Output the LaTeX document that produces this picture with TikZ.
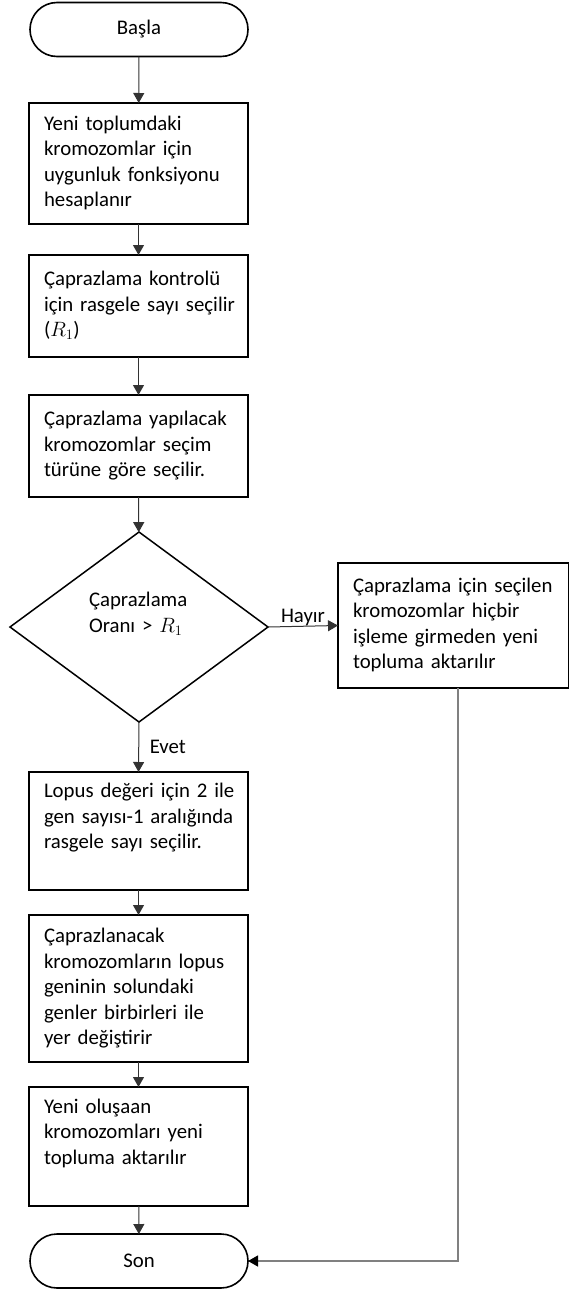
\documentclass[tikz,border=0pt]{standalone}
\usepackage{fontspec}
\setmainfont{Carlito}
\usetikzlibrary{shapes.geometric,shapes.misc,arrows.meta}
% one line of box text, kept unbroken and strutted
\newcommand\rowtxt[1]{\mbox{\strut#1}}

\begin{document}
\begin{tikzpicture}[x=1pt,y=-1pt,
  font=\fontsize{20.8}{25.5}\selectfont,
  every node/.style={inner sep=0pt, outer sep=0pt},
  term/.style={draw, line width=1.6pt, rounded rectangle,
    minimum width=218pt, minimum height=54pt},
  proc/.style={draw, line width=2pt, rectangle, minimum width=219pt,
    text width=189pt, inner xsep=15pt, align=left},
  decision/.style={draw, line width=1.5pt, diamond, aspect=1.36,
    minimum width=258pt, minimum height=190pt, text width=100pt, align=left},
  flow/.style={draw=black!80, line width=1pt,
    -{Triangle[length=10pt,width=11pt]}},
  back/.style={draw=black!50, line width=1.3pt,
    -{Triangle[length=10pt,width=11pt,color=black]}},
  lbl/.style={font=\fontsize{20.8}{24}\selectfont},
]
\fill[white] (0,0) rectangle (568,1293);
\useasboundingbox (0,0) rectangle (568,1293);

% terminals
\node[term] (start) at (139,29.5) {\raisebox{-2pt}{Başla}};
\node[term] (stop)  at (139,1261) {Son};

% process boxes
\node[proc, minimum height=121pt] (b1) at (138.5,163.5)
  {\rowtxt{Yeni toplumdaki}\\\rowtxt{kromozomlar için}\\
   \rowtxt{uygunluk fonksiyonu}\\\rowtxt{hesaplanır}};
\node[proc, minimum height=102pt] (b2) at (138.5,306)
  {\rowtxt{Çaprazlama kontrolü}\\\rowtxt{için rasgele sayı seçilir}\\
   \rowtxt{($R_1$)}};
\node[proc, minimum height=102pt] (b3) at (138.5,446)
  {\rowtxt{Çaprazlama yapılacak}\\\rowtxt{kromozomlar seçim}\\
   \rowtxt{türüne göre seçilir.}};

% decision
\node[decision] (dec) at (139,627)
  {\rowtxt{Çaprazlama}\\\rowtxt{Oranı > $R_1$}\\\rowtxt{}};

% "no" branch box (runs off the right edge)
\node[proc, minimum width=231pt, text width=201pt, minimum height=125pt]
  (nobox) at (453.5,625.5)
  {\rowtxt{Çaprazlama için seçilen}\\\rowtxt{kromozomlar hiçbir}\\
   \rowtxt{işleme girmeden yeni}\\\rowtxt{topluma aktarılır}};

% "yes" branch boxes
\node[proc, minimum height=118pt] (b4) at (138.5,831)
  {\rowtxt{Lopus değeri için 2 ile}\\\rowtxt{gen sayısı-1 aralığında}\\
   \rowtxt{rasgele sayı seçilir.}\\\rowtxt{}};
\node[proc, minimum height=147pt] (b5) at (138.5,988.5)
  {\rowtxt{Çaprazlanacak}\\\rowtxt{kromozomların lopus}\\
   \rowtxt{geninin solundaki}\\\rowtxt{genler birbirleri ile}\\
   \rowtxt{yer değiştirir}};
\node[proc, minimum height=119pt] (b6) at (138.5,1146.5)
  {\rowtxt{Yeni oluşaan}\\\rowtxt{kromozomları yeni}\\
   \rowtxt{topluma aktarılır}\\\rowtxt{}};

% corner of the return line
\coordinate (turn) at (458,1261);

% connectors
\draw[flow] (start) -- (b1);
\draw[flow] (b1) -- (b2);
\draw[flow] (b2) -- (b3);
\draw[flow] (b3) -- (dec);
\draw[flow] (dec.east) -- node[lbl, midway, anchor=south, yshift=0pt] {Hayır} (nobox.west);
\draw[flow] (dec.south) -- node[lbl, midway, anchor=west, xshift=11pt] {Evet} (b4.north);
\draw[flow] (b4) -- (b5);
\draw[flow] (b5) -- (b6);
\draw[flow] (b6) -- (stop);
\draw[back] (nobox.south -| turn) -- (turn) -- (stop.east);
\end{tikzpicture}
\end{document}
